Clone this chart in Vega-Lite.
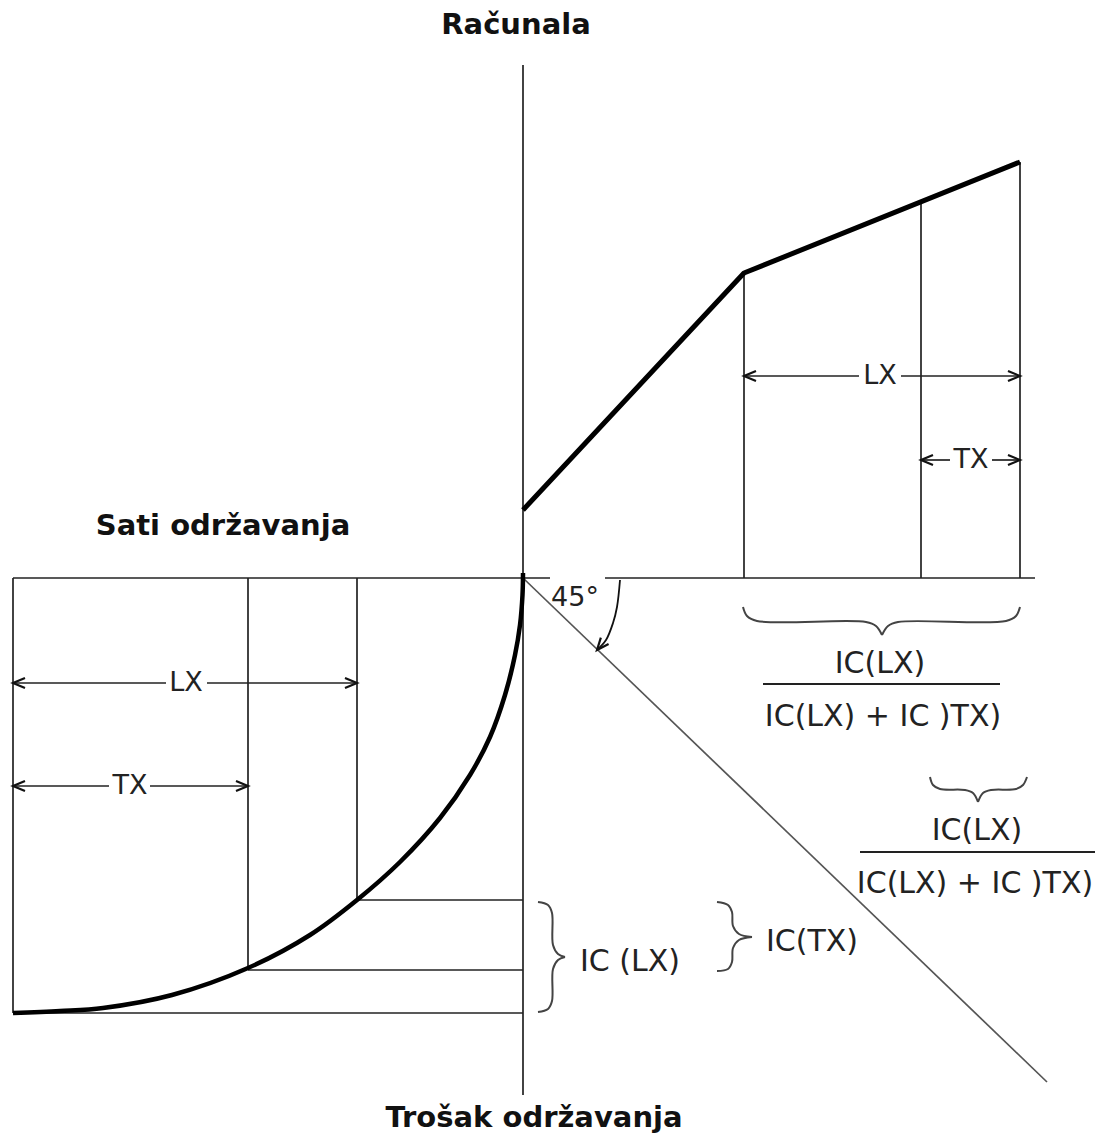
{
  "$schema": "https://vega.github.io/schema/vega-lite/v6.json",
  "width": 1100,
  "height": 1135,
  "padding": 0,
  "autosize": "none",
  "background": "white",
  "config": {"view": {"stroke": null}},
  "datasets": {
    "segs": [
      {"kind": "thin", "x": 0, "y": 513, "x2": 0, "y2": -517},
      {"kind": "thin", "x": -510, "y": 0, "x2": 27, "y2": 0},
      {"kind": "thin", "x": 82, "y": 0, "x2": 512, "y2": 0},
      {"kind": "thin", "x": 221, "y": 0, "x2": 221, "y2": 305},
      {"kind": "thin", "x": 398, "y": 0, "x2": 398, "y2": 376},
      {"kind": "thin", "x": 497, "y": 0, "x2": 497, "y2": 416},
      {"kind": "thin", "x": 221, "y": 202, "x2": 336, "y2": 202},
      {"kind": "thin", "x": 378, "y": 202, "x2": 497, "y2": 202},
      {"kind": "thin", "x": 398, "y": 118, "x2": 427, "y2": 118},
      {"kind": "thin", "x": 469, "y": 118, "x2": 497, "y2": 118},
      {"kind": "thin", "x": -510, "y": 0, "x2": -510, "y2": -435},
      {"kind": "thin", "x": -510, "y": -435, "x2": 0, "y2": -435},
      {"kind": "thin", "x": -275, "y": 0, "x2": -275, "y2": -392},
      {"kind": "thin", "x": -275, "y": -392, "x2": 0, "y2": -392},
      {"kind": "thin", "x": -166, "y": 0, "x2": -166, "y2": -322},
      {"kind": "thin", "x": -166, "y": -322, "x2": 0, "y2": -322},
      {"kind": "thin", "x": -510, "y": -105, "x2": -357, "y2": -105},
      {"kind": "thin", "x": -316, "y": -105, "x2": -166, "y2": -105},
      {"kind": "thin", "x": -510, "y": -208, "x2": -414, "y2": -208},
      {"kind": "thin", "x": -373, "y": -208, "x2": -275, "y2": -208},
      {"kind": "frac", "x": 240, "y": -106, "x2": 477, "y2": -106},
      {"kind": "frac", "x": 337, "y": -274, "x2": 572, "y2": -274},
      {"kind": "diag", "x": 0, "y": 0, "x2": 524, "y2": -504}
    ],
    "paths": [
      {"kind": "poly", "id": "upper", "o": 0, "x": 0, "y": 68},
      {"kind": "poly", "id": "upper", "o": 1, "x": 221, "y": 305},
      {"kind": "poly", "id": "upper", "o": 2, "x": 497, "y": 416},
      {"kind": "curve", "id": "curve", "o": 0, "x": -510, "y": -435},
      {"kind": "curve", "id": "curve", "o": 1, "x": -463, "y": -433},
      {"kind": "curve", "id": "curve", "o": 2, "x": -420, "y": -430},
      {"kind": "curve", "id": "curve", "o": 3, "x": -351, "y": -417},
      {"kind": "curve", "id": "curve", "o": 4, "x": -275, "y": -390},
      {"kind": "curve", "id": "curve", "o": 5, "x": -213, "y": -357},
      {"kind": "curve", "id": "curve", "o": 6, "x": -166, "y": -322},
      {"kind": "curve", "id": "curve", "o": 7, "x": -123, "y": -284},
      {"kind": "curve", "id": "curve", "o": 8, "x": -83, "y": -240},
      {"kind": "curve", "id": "curve", "o": 9, "x": -53, "y": -197},
      {"kind": "curve", "id": "curve", "o": 10, "x": -33, "y": -159},
      {"kind": "curve", "id": "curve", "o": 11, "x": -18, "y": -117},
      {"kind": "curve", "id": "curve", "o": 12, "x": -8, "y": -77},
      {"kind": "curve", "id": "curve", "o": 13, "x": -3, "y": -47},
      {"kind": "curve", "id": "curve", "o": 14, "x": -0.5, "y": -17},
      {"kind": "curve", "id": "curve", "o": 15, "x": 0, "y": 5},
      {"kind": "arc", "id": "arc", "o": 0, "x": 97, "y": -2},
      {"kind": "arc", "id": "arc", "o": 1, "x": 94, "y": -29},
      {"kind": "arc", "id": "arc", "o": 2, "x": 90, "y": -45},
      {"kind": "arc", "id": "arc", "o": 3, "x": 83, "y": -62},
      {"kind": "arc", "id": "arc", "o": 4, "x": 74, "y": -72},
      {"kind": "brace", "id": "a1", "o": 0, "x": 220, "y": -29},
      {"kind": "brace", "id": "a1", "o": 1, "x": 224, "y": -38},
      {"kind": "brace", "id": "a1", "o": 2, "x": 234, "y": -43},
      {"kind": "brace", "id": "a1", "o": 3, "x": 343, "y": -44},
      {"kind": "brace", "id": "a1", "o": 4, "x": 353, "y": -48},
      {"kind": "brace", "id": "a1", "o": 5, "x": 359, "y": -57},
      {"kind": "brace", "id": "a2", "o": 0, "x": 359, "y": -57},
      {"kind": "brace", "id": "a2", "o": 1, "x": 365, "y": -48},
      {"kind": "brace", "id": "a2", "o": 2, "x": 375, "y": -44},
      {"kind": "brace", "id": "a2", "o": 3, "x": 483, "y": -43},
      {"kind": "brace", "id": "a2", "o": 4, "x": 493, "y": -38},
      {"kind": "brace", "id": "a2", "o": 5, "x": 497, "y": -29},
      {"kind": "brace", "id": "b1", "o": 0, "x": 407, "y": -199},
      {"kind": "brace", "id": "b1", "o": 1, "x": 410, "y": -207},
      {"kind": "brace", "id": "b1", "o": 2, "x": 417, "y": -211},
      {"kind": "brace", "id": "b1", "o": 3, "x": 442, "y": -212},
      {"kind": "brace", "id": "b1", "o": 4, "x": 450, "y": -215},
      {"kind": "brace", "id": "b1", "o": 5, "x": 455, "y": -224},
      {"kind": "brace", "id": "b2", "o": 0, "x": 455, "y": -224},
      {"kind": "brace", "id": "b2", "o": 1, "x": 460, "y": -215},
      {"kind": "brace", "id": "b2", "o": 2, "x": 468, "y": -212},
      {"kind": "brace", "id": "b2", "o": 3, "x": 493, "y": -211},
      {"kind": "brace", "id": "b2", "o": 4, "x": 500, "y": -207},
      {"kind": "brace", "id": "b2", "o": 5, "x": 504, "y": -199},
      {"kind": "brace", "id": "c1", "o": 0, "x": 15, "y": -324},
      {"kind": "brace", "id": "c1", "o": 1, "x": 25, "y": -327},
      {"kind": "brace", "id": "c1", "o": 2, "x": 29, "y": -335},
      {"kind": "brace", "id": "c1", "o": 3, "x": 30, "y": -367},
      {"kind": "brace", "id": "c1", "o": 4, "x": 35, "y": -376},
      {"kind": "brace", "id": "c1", "o": 5, "x": 42, "y": -379},
      {"kind": "brace", "id": "c2", "o": 0, "x": 42, "y": -379},
      {"kind": "brace", "id": "c2", "o": 1, "x": 35, "y": -382},
      {"kind": "brace", "id": "c2", "o": 2, "x": 30, "y": -391},
      {"kind": "brace", "id": "c2", "o": 3, "x": 29, "y": -423},
      {"kind": "brace", "id": "c2", "o": 4, "x": 25, "y": -431},
      {"kind": "brace", "id": "c2", "o": 5, "x": 15, "y": -434},
      {"kind": "brace", "id": "d1", "o": 0, "x": 194, "y": -324},
      {"kind": "brace", "id": "d1", "o": 1, "x": 205, "y": -327},
      {"kind": "brace", "id": "d1", "o": 2, "x": 209, "y": -334},
      {"kind": "brace", "id": "d1", "o": 3, "x": 210, "y": -348},
      {"kind": "brace", "id": "d1", "o": 4, "x": 216, "y": -356},
      {"kind": "brace", "id": "d1", "o": 5, "x": 229, "y": -359},
      {"kind": "brace", "id": "d2", "o": 0, "x": 229, "y": -359},
      {"kind": "brace", "id": "d2", "o": 1, "x": 216, "y": -362},
      {"kind": "brace", "id": "d2", "o": 2, "x": 210, "y": -370},
      {"kind": "brace", "id": "d2", "o": 3, "x": 209, "y": -384},
      {"kind": "brace", "id": "d2", "o": 4, "x": 205, "y": -391},
      {"kind": "brace", "id": "d2", "o": 5, "x": 194, "y": -393}
    ],
    "heads": [
      {"x": 221, "y": 202, "angle": 180},
      {"x": 497, "y": 202, "angle": 0},
      {"x": 398, "y": 118, "angle": 180},
      {"x": 497, "y": 118, "angle": 0},
      {"x": -510, "y": -105, "angle": 180},
      {"x": -166, "y": -105, "angle": 0},
      {"x": -510, "y": -208, "angle": 180},
      {"x": -275, "y": -208, "angle": 0},
      {"x": 74, "y": -72, "angle": 130}
    ],
    "labels": [
      {"kind": "title", "x": -7, "y": 553, "text": "Računala"},
      {"kind": "title", "x": -300, "y": 52, "text": "Sati održavanja"},
      {"kind": "title", "x": 11, "y": -540, "text": "Trošak održavanja"},
      {"kind": "tag", "x": 357, "y": 202, "text": "LX"},
      {"kind": "tag", "x": 448, "y": 118, "text": "TX"},
      {"kind": "tag", "x": -337, "y": -105, "text": "LX"},
      {"kind": "tag", "x": -393, "y": -208, "text": "TX"},
      {"kind": "tag", "x": 52, "y": -20, "text": "45°"},
      {"kind": "formula", "x": 357, "y": -86, "text": "IC(LX)"},
      {"kind": "formula", "x": 360, "y": -139, "text": "IC(LX) + IC )TX)"},
      {"kind": "formula", "x": 454, "y": -253, "text": "IC(LX)"},
      {"kind": "formula", "x": 452, "y": -306, "text": "IC(LX) + IC )TX)"},
      {"kind": "formula", "x": 107, "y": -384, "text": "IC (LX)"},
      {"kind": "formula", "x": 289, "y": -364, "text": "IC(TX)"}
    ]
  },
  "encoding": {
    "x": {"field": "x", "type": "quantitative", "scale": {"domain": [-523, 577], "nice": false, "zero": false}, "axis": null},
    "y": {"field": "y", "type": "quantitative", "scale": {"domain": [-557, 578], "nice": false, "zero": false}, "axis": null}
  },
  "layer": [
    {
      "data": {"name": "segs"},
      "transform": [{"filter": "datum.kind === 'thin'"}],
      "mark": {"type": "rule", "color": "#222", "strokeWidth": 1.7},
      "encoding": {"x2": {"field": "x2"}, "y2": {"field": "y2"}}
    },
    {
      "data": {"name": "segs"},
      "transform": [{"filter": "datum.kind === 'frac'"}],
      "mark": {"type": "rule", "color": "#222", "strokeWidth": 2.2},
      "encoding": {"x2": {"field": "x2"}, "y2": {"field": "y2"}}
    },
    {
      "data": {"name": "segs"},
      "transform": [{"filter": "datum.kind === 'diag'"}],
      "mark": {"type": "rule", "color": "#555", "strokeWidth": 1.7},
      "encoding": {"x2": {"field": "x2"}, "y2": {"field": "y2"}}
    },
    {
      "data": {"name": "paths"},
      "transform": [{"filter": "datum.kind === 'poly'"}],
      "mark": {"type": "line", "color": "#000", "strokeWidth": 5, "strokeJoin": "round"},
      "encoding": {"order": {"field": "o", "type": "quantitative"}}
    },
    {
      "data": {"name": "paths"},
      "transform": [{"filter": "datum.kind === 'curve'"}],
      "mark": {"type": "line", "color": "#000", "strokeWidth": 4.5, "interpolate": "catmull-rom", "strokeCap": "butt"},
      "encoding": {"order": {"field": "o", "type": "quantitative"}}
    },
    {
      "data": {"name": "paths"},
      "transform": [{"filter": "datum.kind === 'arc'"}],
      "mark": {"type": "line", "color": "#111", "strokeWidth": 1.8, "interpolate": "catmull-rom"},
      "encoding": {"order": {"field": "o", "type": "quantitative"}}
    },
    {
      "data": {"name": "paths"},
      "transform": [{"filter": "datum.kind === 'brace'"}],
      "mark": {"type": "line", "color": "#444", "strokeWidth": 2, "interpolate": "catmull-rom"},
      "encoding": {
        "detail": {"field": "id", "type": "nominal"},
        "order": {"field": "o", "type": "quantitative"}
      }
    },
    {
      "data": {"name": "heads"},
      "mark": {"type": "point", "filled": false, "color": "#111", "strokeWidth": 2.2, "opacity": 1, "size": 576, "shape": "M-1,-0.42L0,0L-1,0.42"},
      "encoding": {"angle": {"field": "angle", "type": "quantitative", "scale": null}}
    },
    {
      "data": {"name": "labels"},
      "transform": [{"filter": "datum.kind === 'title'"}],
      "mark": {"type": "text", "font": "DejaVu Sans", "fontSize": 29, "fontWeight": "bold", "color": "#111", "baseline": "middle", "align": "center"},
      "encoding": {"text": {"field": "text"}}
    },
    {
      "data": {"name": "labels"},
      "transform": [{"filter": "datum.kind === 'tag'"}],
      "mark": {"type": "text", "font": "DejaVu Sans", "fontSize": 27, "color": "#222", "baseline": "middle", "align": "center"},
      "encoding": {"text": {"field": "text"}}
    },
    {
      "data": {"name": "labels"},
      "transform": [{"filter": "datum.kind === 'formula'"}],
      "mark": {"type": "text", "font": "DejaVu Sans", "fontSize": 30, "color": "#222", "baseline": "middle", "align": "center"},
      "encoding": {"text": {"field": "text"}}
    }
  ]
}
